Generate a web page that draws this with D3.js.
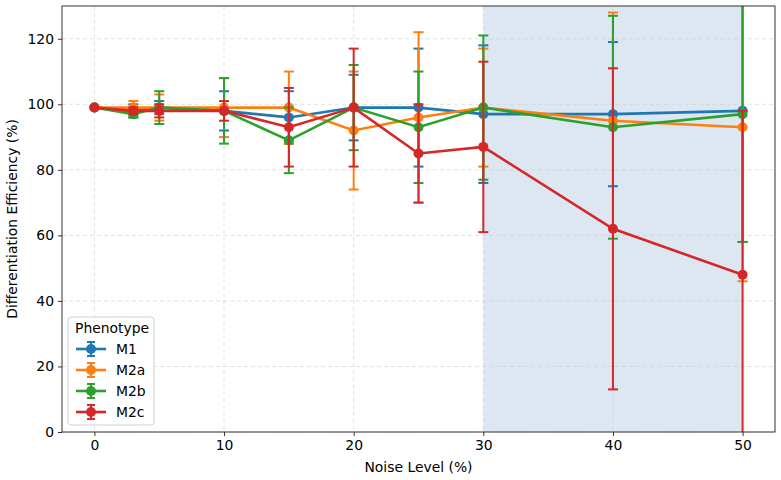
<!DOCTYPE html>
<html>
<head>
  <script src="https://d3js.org/d3.v7.min.js"></script>
  <style type="text/css">
    body { margin: 0; background: #ffffff; }
    svg { font-family: 'DejaVu Sans', sans-serif; }
  </style>
</head>
<body>
<div id="chart"></div>
<script>
  // noise levels (x) and the four phenotypes
  var noise = [0, 3, 5, 10, 15, 20, 25, 30, 40, 50];
  var phenotypes = ["M1", "M2a", "M2b", "M2c"];
  var colors = ["#1f77b4", "#ff7f0e", "#2ca02c", "#d62728"];

  var m1 = [99, 98, 99, 98, 96, 99, 99, 97, 97, 98];
  var m1Err = [0, 2, 2, 6, 8, 10, 18, 21, 22, 40];
  var m2a = [99, 99, 99, 99, 99, 92, 96, 99, 95, 93];
  var m2aErr = [0, 2, 4, 9, 11, 18, 26, 18, 33, 47];
  var m2b = [99, 97, 99, 98, 89, 99, 93, 99, 93, 97];
  var m2bErr = [0, 1, 5, 10, 10, 13, 17, 22, 34, 39];
  var m2c = [99, 98, 98, 98, 93, 99, 85, 87, 62, 48];
  var m2cErr = [0, 1, 2, 3, 12, 18, 15, 26, 49, 50];

  var xTicks = [0, 10, 20, 30, 40, 50];
  var yTicks = [0, 20, 40, 60, 80, 100, 120];
  var shadeRange = [30, 50];

  var series = [m1, m2a, m2b, m2c].map(function (vals, i) {
    var errs = [m1Err, m2aErr, m2bErr, m2cErr][i];
    return {
      name: phenotypes[i], color: colors[i],
      points: noise.map(function (n, j) { return {x: n, y: vals[j], e: errs[j]}; })
    };
  });

  var W = 781, H = 480, fs = 13.9;
  var margin = {left: 62, right: 6, top: 6, bottom: 48};
  var svg = d3.select("#chart").append("svg").attr("width", W).attr("height", H);

  var x = d3.scaleLinear().domain([-2.5, 52.5]).range([margin.left, W - margin.right]);
  var y = d3.scaleLinear().domain([0, 130]).range([H - margin.bottom, margin.top]);

  svg.append("defs").append("clipPath").attr("id", "plotclip")
    .append("rect").attr("x", x.range()[0]).attr("y", y.range()[1])
    .attr("width", x.range()[1] - x.range()[0]).attr("height", y.range()[0] - y.range()[1]);

  // shaded high-noise band
  svg.append("rect")
    .attr("x", x(shadeRange[0])).attr("y", y.range()[1])
    .attr("width", x(shadeRange[1]) - x(shadeRange[0]))
    .attr("height", y.range()[0] - y.range()[1])
    .attr("fill", "#dce7f2");

  // grid
  svg.append("g").selectAll("line").data(xTicks).enter().append("line")
    .attr("x1", x).attr("x2", x).attr("y1", y.range()[1]).attr("y2", y.range()[0])
    .attr("stroke", "#cccccc").attr("stroke-width", 0.8).attr("stroke-dasharray", "4,3").attr("opacity", 0.7);
  svg.append("g").selectAll("line").data(yTicks).enter().append("line")
    .attr("y1", y).attr("y2", y).attr("x1", x.range()[0]).attr("x2", x.range()[1])
    .attr("stroke", "#cccccc").attr("stroke-width", 0.8).attr("stroke-dasharray", "4,3").attr("opacity", 0.7);

  var plot = svg.append("g").attr("clip-path", "url(#plotclip)");
  var line = d3.line().x(function (d) { return x(d.x); }).y(function (d) { return y(d.y); });
  var cap = 5;

  series.forEach(function (s) {
    var g = plot.append("g");
    var eb = g.selectAll("g.eb").data(s.points.filter(function (d) { return d.e > 0; })).enter().append("g");
    eb.append("line")
      .attr("x1", function (d) { return x(d.x); }).attr("x2", function (d) { return x(d.x); })
      .attr("y1", function (d) { return y(d.y - d.e); }).attr("y2", function (d) { return y(d.y + d.e); })
      .attr("stroke", s.color).attr("stroke-width", 2);
    [-1, 1].forEach(function (sign) {
      eb.append("line")
        .attr("x1", function (d) { return x(d.x) - cap; }).attr("x2", function (d) { return x(d.x) + cap; })
        .attr("y1", function (d) { return y(d.y + sign * d.e); }).attr("y2", function (d) { return y(d.y + sign * d.e); })
        .attr("stroke", s.color).attr("stroke-width", 2);
    });
    g.append("path").datum(s.points).attr("d", line)
      .attr("fill", "none").attr("stroke", s.color).attr("stroke-width", 2.6);
    g.selectAll("circle").data(s.points).enter().append("circle")
      .attr("cx", function (d) { return x(d.x); }).attr("cy", function (d) { return y(d.y); })
      .attr("r", 5).attr("fill", s.color);
  });

  // axes
  var xAxis = svg.append("g").attr("transform", "translate(0," + y.range()[0] + ")")
    .call(d3.axisBottom(x).tickValues(xTicks).tickSize(4).tickPadding(4));
  var yAxis = svg.append("g").attr("transform", "translate(" + x.range()[0] + ",0)")
    .call(d3.axisLeft(y).tickValues(yTicks).tickSize(4).tickPadding(4));
  [xAxis, yAxis].forEach(function (a) {
    a.select(".domain").remove();
    a.selectAll("text").attr("font-size", fs).attr("fill", "#000").attr("font-family", "DejaVu Sans, sans-serif");
    a.selectAll("line").attr("stroke", "#333");
  });
  svg.append("rect").attr("x", x.range()[0]).attr("y", y.range()[1])
    .attr("width", x.range()[1] - x.range()[0]).attr("height", y.range()[0] - y.range()[1])
    .attr("fill", "none").attr("stroke", "#333").attr("stroke-width", 1);

  svg.append("text").attr("x", (x.range()[0] + x.range()[1]) / 2).attr("y", 472)
    .attr("text-anchor", "middle").attr("font-size", fs).text("Noise Level (%)");
  svg.append("text").attr("transform", "translate(17," + ((y.range()[0] + y.range()[1]) / 2) + ") rotate(-90)")
    .attr("text-anchor", "middle").attr("font-size", fs).text("Differentiation Efficiency (%)");

  // legend
  var lg = svg.append("g").attr("transform", "translate(68,317)");
  lg.append("rect").attr("width", 86).attr("height", 108).attr("rx", 3)
    .attr("fill", "#ffffff").attr("fill-opacity", 0.85).attr("stroke", "#d0d0d0");
  lg.append("text").attr("x", 7).attr("y", 16).attr("font-size", fs).text("Phenotype");
  series.forEach(function (s, i) {
    var row = lg.append("g").attr("transform", "translate(0," + (32 + i * 21) + ")");
    row.append("line").attr("x1", 8).attr("x2", 38).attr("stroke", s.color).attr("stroke-width", 2.6);
    row.append("line").attr("x1", 23).attr("x2", 23).attr("y1", -7).attr("y2", 7).attr("stroke", s.color).attr("stroke-width", 2);
    row.append("line").attr("x1", 19).attr("x2", 27).attr("y1", -7).attr("y2", -7).attr("stroke", s.color).attr("stroke-width", 2);
    row.append("line").attr("x1", 19).attr("x2", 27).attr("y1", 7).attr("y2", 7).attr("stroke", s.color).attr("stroke-width", 2);
    row.append("circle").attr("cx", 23).attr("r", 5).attr("fill", s.color);
    row.append("text").attr("x", 48).attr("y", 5).attr("font-size", fs).text(s.name);
  });
</script>
</body>
</html>
